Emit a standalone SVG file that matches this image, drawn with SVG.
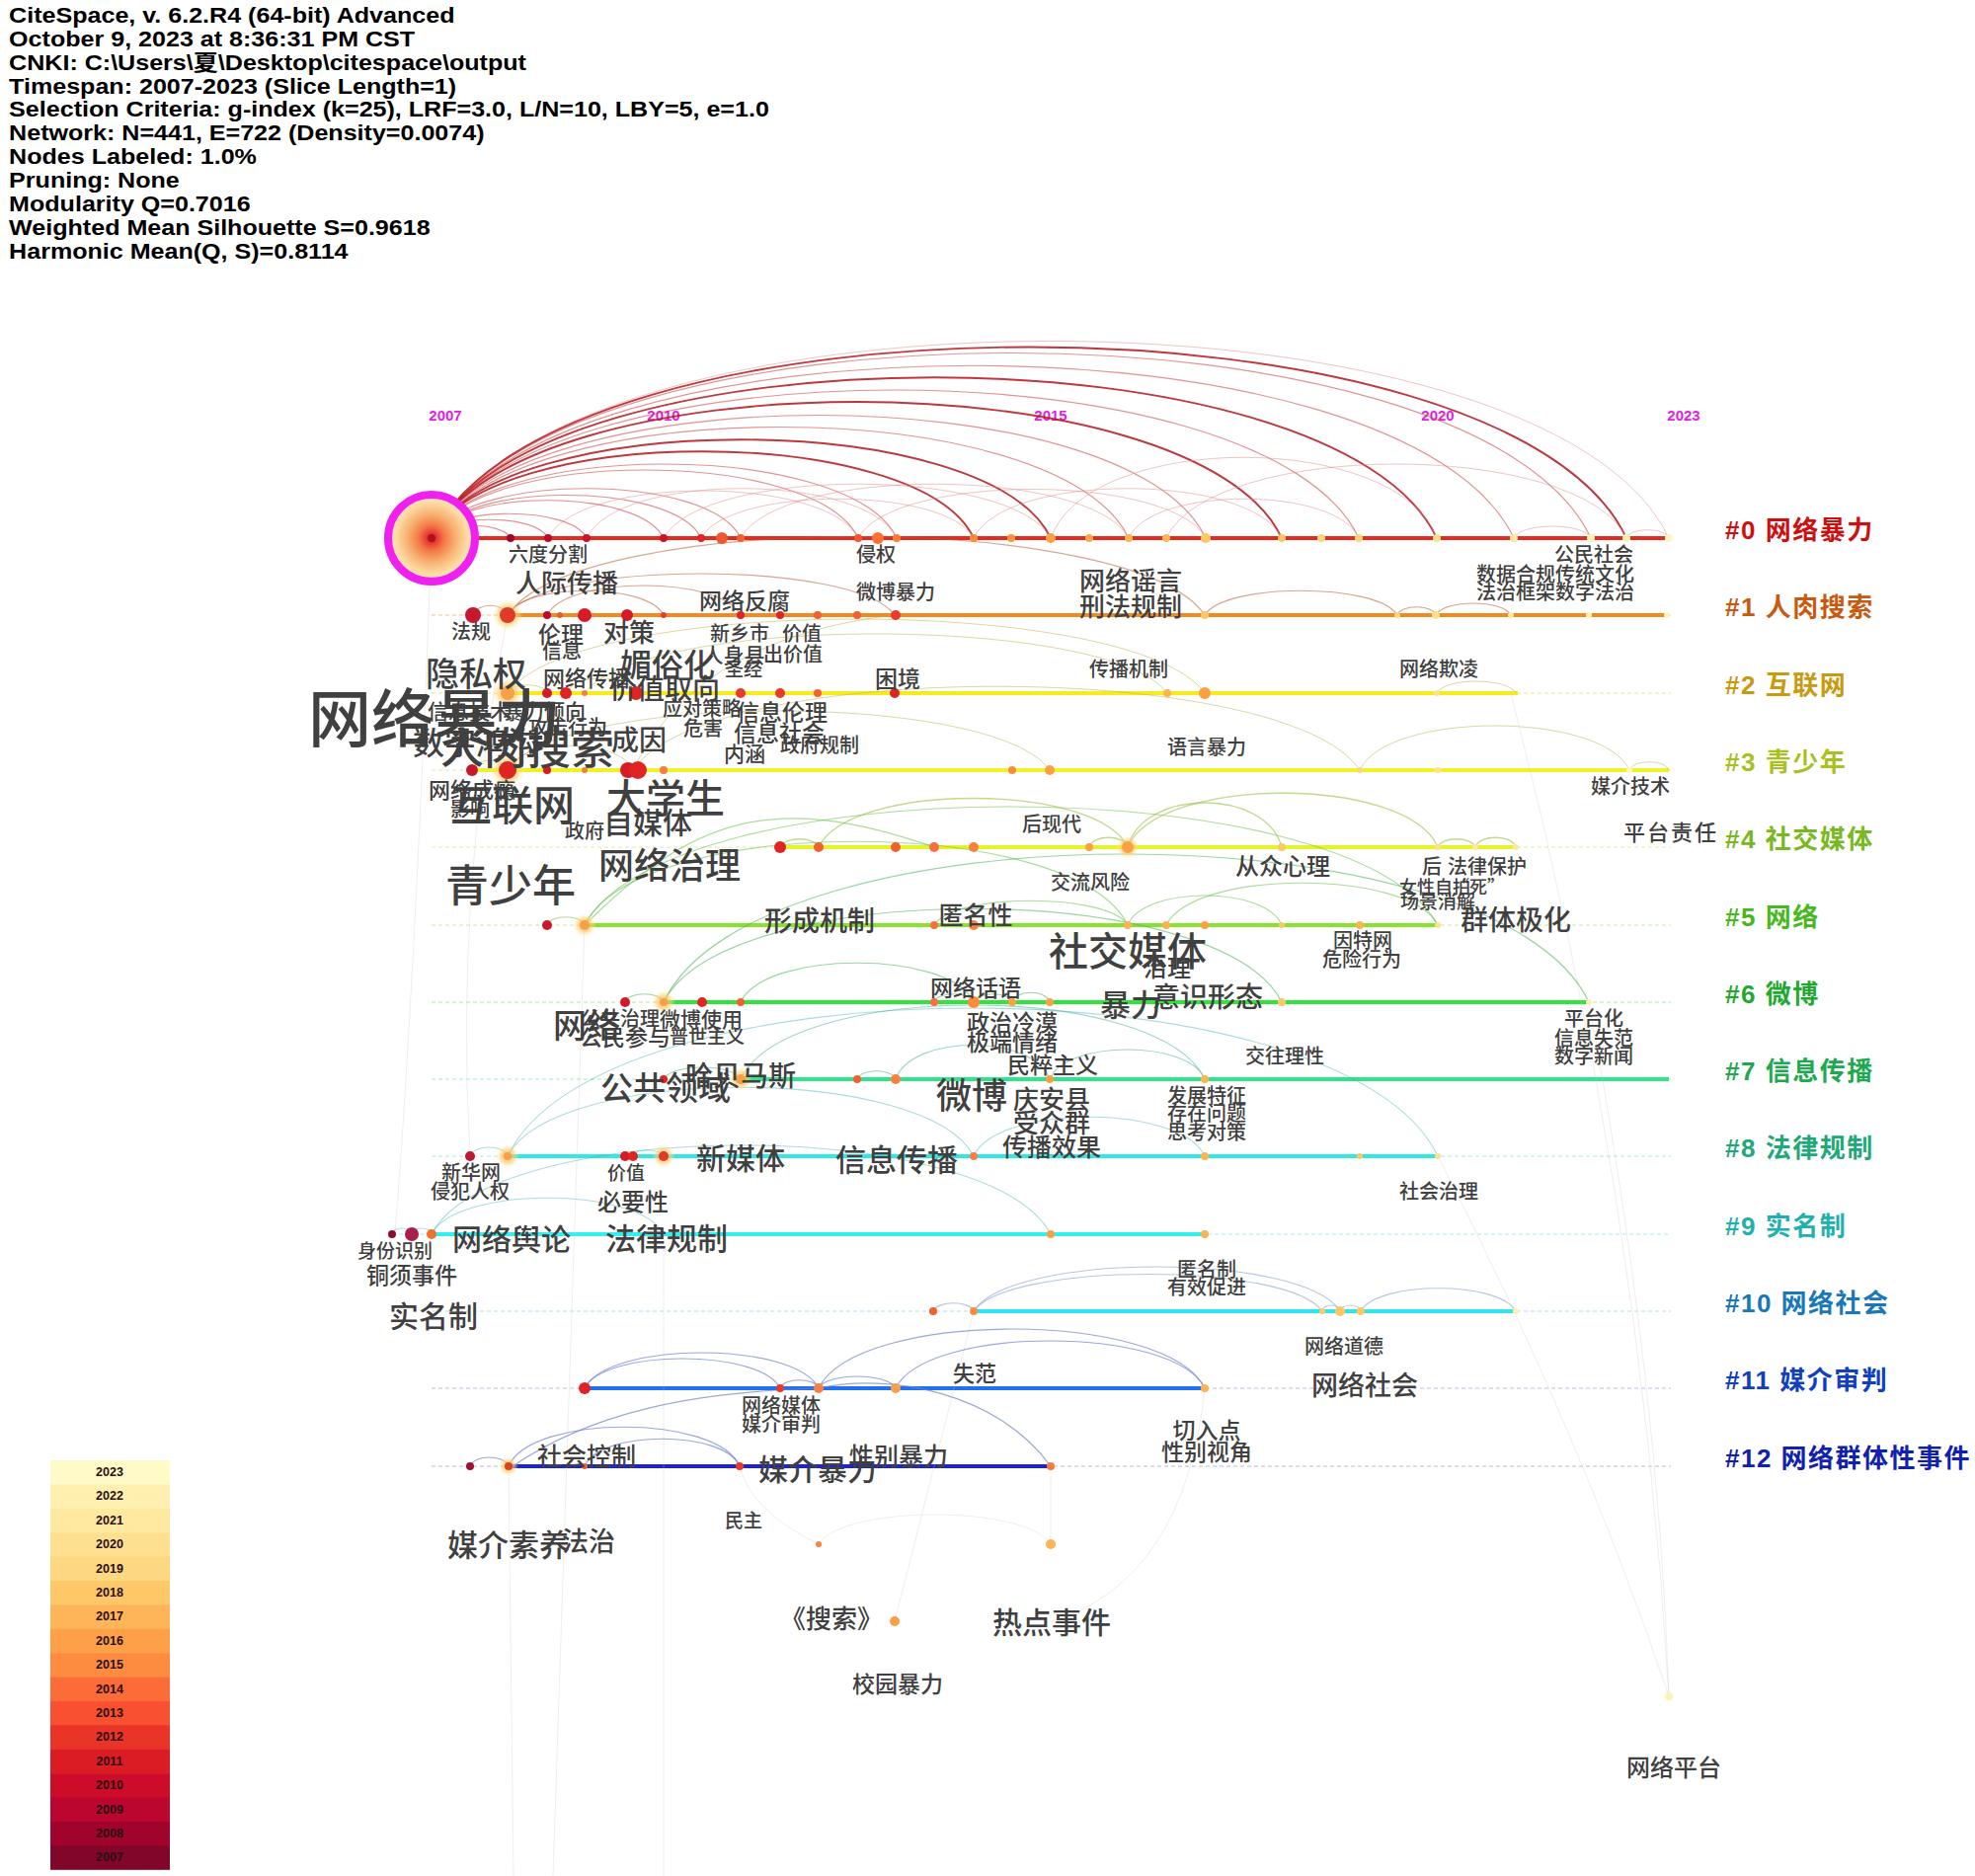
<svg xmlns="http://www.w3.org/2000/svg" width="2000" height="1900" viewBox="0 0 2000 1900">
<style>
.hdr{font-family:"Liberation Sans",Arial,sans-serif;font-weight:bold;font-size:22px;fill:#000}
.yr{font-family:"Liberation Sans Narrow","Liberation Sans",sans-serif;font-weight:bold;font-size:15px;fill:#e01ee0;text-anchor:middle}
.kw{font-family:"Noto Sans CJK SC",sans-serif;font-weight:500;fill:#404040;text-anchor:middle}
.kws{font-family:"Noto Sans CJK SC",sans-serif;font-weight:500;fill:#404040}
.cl{font-family:"Liberation Sans","Noto Sans CJK SC",sans-serif;font-weight:bold;font-size:26px;letter-spacing:1.5px}
.lg{font-family:"Liberation Sans",sans-serif;font-weight:bold;font-size:12.5px;fill:#2a1010;text-anchor:middle}
.dash{fill:none;stroke-width:1.3;stroke-dasharray:4 3;opacity:.55}
.tl{fill:none;stroke-width:4}
.a{fill:none}
.r0{stroke:#b3141a;stroke-width:1.9;opacity:.85}
.r0b{stroke:#c83a3a;stroke-width:1.2;opacity:.55}
.r0f{stroke:#e08a8a;stroke-width:1;opacity:.5}
.r1{stroke:#b85a30;stroke-width:1.2;opacity:.55}
.r2{stroke:#b8b048;stroke-width:1;opacity:.5}
.r4{stroke:#98c040;stroke-width:1.3;opacity:.6}
.r5{stroke:#68c048;stroke-width:1.2;opacity:.55}
.r6{stroke:#48b058;stroke-width:1.2;opacity:.55}
.r7{stroke:#40b088;stroke-width:1.1;opacity:.5}
.r8{stroke:#48b0b8;stroke-width:1.1;opacity:.45}
.r10{stroke:#98acd8;stroke-width:1.2;opacity:.7}
.r11{stroke:#7080d0;stroke-width:1.2;opacity:.7}
.gr{stroke:#c8c8c8;stroke-width:.9;opacity:.35;fill:none}
</style>
<defs>
<radialGradient id="bigg" cx="0.5" cy="0.5" r="0.5">
<stop offset="0" stop-color="#d01020"/>
<stop offset="0.12" stop-color="#e83a30"/>
<stop offset="0.3" stop-color="#f47a48"/>
<stop offset="0.55" stop-color="#f8b070"/>
<stop offset="0.8" stop-color="#fcd8a0"/>
<stop offset="1" stop-color="#fde8c0"/>
</radialGradient>
<radialGradient id="glow" cx="0.5" cy="0.5" r="0.5">
<stop offset="0" stop-color="#f8a040" stop-opacity="0.9"/>
<stop offset="0.6" stop-color="#fcd070" stop-opacity="0.6"/>
<stop offset="1" stop-color="#fff0b0" stop-opacity="0"/>
</radialGradient>
</defs>
<rect width="2000" height="1900" fill="#fff"/>

<g id="header" transform="scale(1.14,1)">
<text class="hdr" x="8" y="23">CiteSpace, v. 6.2.R4 (64-bit) Advanced</text>
<text class="hdr" x="8" y="47">October 9, 2023 at 8:36:31 PM CST</text>
<text class="hdr" x="8" y="71">CNKI: C:\Users\<tspan font-family="Noto Sans CJK SC">夏</tspan>\Desktop\citespace\output</text>
<text class="hdr" x="8" y="95">Timespan: 2007-2023 (Slice Length=1)</text>
<text class="hdr" x="8" y="118">Selection Criteria: g-index (k=25), LRF=3.0, L/N=10, LBY=5, e=1.0</text>
<text class="hdr" x="8" y="142">Network: N=441, E=722 (Density=0.0074)</text>
<text class="hdr" x="8" y="166">Nodes Labeled: 1.0%</text>
<text class="hdr" x="8" y="190">Pruning: None</text>
<text class="hdr" x="8" y="214">Modularity Q=0.7016</text>
<text class="hdr" x="8" y="238">Weighted Mean Silhouette S=0.9618</text>
<text class="hdr" x="8" y="262">Harmonic Mean(Q, S)=0.8114</text>
</g>

<g id="years">
<text class="yr" x="451" y="426">2007</text>
<text class="yr" x="672" y="426">2010</text>
<text class="yr" x="1064" y="426">2015</text>
<text class="yr" x="1456" y="426">2020</text>
<text class="yr" x="1705" y="426">2023</text>
</g>

<g id="legend">
<rect x="51" y="1479" width="121" height="25" fill="#fffbc8"/>
<rect x="51" y="1503.4" width="121" height="25" fill="#fff0b0"/>
<rect x="51" y="1527.8" width="121" height="25" fill="#ffe8a0"/>
<rect x="51" y="1552.2" width="121" height="25" fill="#ffe090"/>
<rect x="51" y="1576.6" width="121" height="25" fill="#fed880"/>
<rect x="51" y="1601" width="121" height="25" fill="#fec868"/>
<rect x="51" y="1625.4" width="121" height="25" fill="#feb458"/>
<rect x="51" y="1649.8" width="121" height="25" fill="#fea048"/>
<rect x="51" y="1674.2" width="121" height="25" fill="#fd8c40"/>
<rect x="51" y="1698.6" width="121" height="25" fill="#fc6c38"/>
<rect x="51" y="1723" width="121" height="25" fill="#f85030"/>
<rect x="51" y="1747.4" width="121" height="25" fill="#ea3428"/>
<rect x="51" y="1771.8" width="121" height="25" fill="#dc1c24"/>
<rect x="51" y="1796.2" width="121" height="25" fill="#cc0c28"/>
<rect x="51" y="1820.6" width="121" height="25" fill="#bb0630"/>
<rect x="51" y="1845" width="121" height="25" fill="#a0042c"/>
<rect x="51" y="1869.4" width="121" height="24.4" fill="#80062a"/>
<text class="lg" x="111" y="1495">2023</text>
<text class="lg" x="111" y="1519">2022</text>
<text class="lg" x="111" y="1544">2021</text>
<text class="lg" x="111" y="1568">2020</text>
<text class="lg" x="111" y="1593">2019</text>
<text class="lg" x="111" y="1617">2018</text>
<text class="lg" x="111" y="1641">2017</text>
<text class="lg" x="111" y="1666">2016</text>
<text class="lg" x="111" y="1690">2015</text>
<text class="lg" x="111" y="1715">2014</text>
<text class="lg" x="111" y="1739">2013</text>
<text class="lg" x="111" y="1763">2012</text>
<text class="lg" x="111" y="1788">2011</text>
<text class="lg" x="111" y="1812">2010</text>
<text class="lg" x="111" y="1837">2009</text>
<text class="lg" x="111" y="1861">2008</text>
<text class="lg" x="111" y="1885">2007</text>
</g>

<g id="timelines">
<line class="dash" x1="437" y1="545" x2="1692" y2="545" stroke="#f08080"/>
<line class="dash" x1="437" y1="623" x2="1692" y2="623" stroke="#f0b070"/>
<line class="dash" x1="437" y1="702" x2="1692" y2="702" stroke="#e8e070"/>
<line class="dash" x1="437" y1="780" x2="1692" y2="780" stroke="#e0e880"/>
<line class="dash" x1="437" y1="858" x2="1692" y2="858" stroke="#d8e890"/>
<line class="dash" x1="437" y1="937" x2="1692" y2="937" stroke="#b8e890"/>
<line class="dash" x1="437" y1="1015" x2="1692" y2="1015" stroke="#98e898"/>
<line class="dash" x1="437" y1="1093" x2="1692" y2="1093" stroke="#90e8b8"/>
<line class="dash" x1="437" y1="1171" x2="1692" y2="1171" stroke="#90e8e0"/>
<line class="dash" x1="397" y1="1250" x2="1692" y2="1250" stroke="#90e8e8"/>
<line class="dash" x1="437" y1="1328" x2="1692" y2="1328" stroke="#98d8f0"/>
<line class="dash" x1="437" y1="1406" x2="1692" y2="1406" stroke="#a8b0e8"/>
<line class="dash" x1="437" y1="1485" x2="1692" y2="1485" stroke="#a8a8e8"/>
<line class="tl" x1="437" y1="545" x2="1690" y2="545" stroke="#e62a1e"/>
<line class="tl" x1="514" y1="623" x2="1690" y2="623" stroke="#f28a22"/>
<line class="tl" x1="514" y1="702" x2="1537" y2="702" stroke="#f6ec1c"/>
<line class="tl" x1="478" y1="780" x2="1690" y2="780" stroke="#eef424"/>
<line class="tl" x1="790" y1="858" x2="1535" y2="858" stroke="#e4f428"/>
<line class="tl" x1="592" y1="937" x2="1456" y2="937" stroke="#88e42a"/>
<line class="tl" x1="672" y1="1015" x2="1609" y2="1015" stroke="#2ee63a"/>
<line class="tl" x1="750" y1="1093" x2="1690" y2="1093" stroke="#30e48a"/>
<line class="tl" x1="514" y1="1171" x2="1456" y2="1171" stroke="#30e8e8"/>
<line class="tl" x1="437" y1="1250" x2="1220" y2="1250" stroke="#30f0f0"/>
<line class="tl" x1="986" y1="1328" x2="1535" y2="1328" stroke="#30e4f4"/>
<line class="tl" x1="592" y1="1406" x2="1220" y2="1406" stroke="#2070f0"/>
<line class="tl" x1="515" y1="1485" x2="1064" y2="1485" stroke="#1a22e0"/>
</g>

<g id="connectors">
<path class="gr" d="M1530 702 Q1660 1200 1690 1718"/>
<path class="gr" d="M1609 1015 Q1680 1400 1690 1718"/>
<path class="gr" d="M1456 1171 Q1600 1450 1690 1718"/>
<path class="gr" d="M986 1328 L906 1642"/>
<path class="gr" d="M1064 1485 L1064 1564"/>
<path class="gr" d="M749 1485 Q760 1530 829 1564"/>
<path class="gr" d="M437 545 Q420 1000 400 1250"/>
<path class="gr" d="M672 1250 L672 1900"/>
<path class="gr" d="M514 623 Q460 900 476 1171"/>
<path class="gr" d="M592 937 L560 1900"/>
<path class="gr" d="M515 1485 L520 1900"/>
<path class="gr" d="M1220 1406 Q1200 1600 1064 1643"/>

<path class="a r0f" d="M437 545 C562 279 1565 279 1690 545"/>
<path class="a r0" d="M437 545 C558 287 1526 287 1647 545"/>
<path class="a r0b" d="M437 545 C554 295 1494 295 1611 545"/>
<path class="a r0b" d="M437 545 C547 312 1423 312 1533 545"/>
<path class="a r0" d="M437 545 C539 328 1353 328 1455 545"/>
<path class="a r0b" d="M437 545 C531 345 1282 345 1376 545"/>
<path class="a r0" d="M437 545 C523 361 1212 361 1298 545"/>
<path class="a r0b" d="M437 545 C515 379 1143 379 1221 545"/>
<path class="a r0b" d="M437 545 C508 395 1072 395 1143 545"/>
<path class="a r0" d="M437 545 C500 412 1001 412 1064 545"/>
<path class="a r0" d="M437 545 C492 428 931 428 986 545"/>
<path class="a r0b" d="M437 545 C484 445 861 445 908 545"/>
<path class="a r0b" d="M437 545 C480 453 826 453 869 545"/>
<path class="a r0b" d="M437 545 C468 478 719 478 750 545"/>
<path class="a r0b" d="M437 545 C464 487 683 487 710 545"/>
<path class="a r0b" d="M437 545 C460 494 648 494 672 545"/>
<path class="a r0b" d="M437 545 C453 512 578 512 594 545"/>
<path class="a r0b" d="M437 545 C449 520 543 520 555 545"/>
<path class="a r0b" d="M437 545 C445 528 509 528 517 545"/>
<path class="a r0f" d="M672 545 C711 472 1025 472 1064 545"/>
<path class="a r0f" d="M750 545 C789 472 1104 472 1143 545"/>
<path class="a r0f" d="M869 545 C904 479 1186 479 1221 545"/>
<path class="a r0f" d="M1064 545 C1103 436 1416 436 1455 545"/>
<path class="a r0f" d="M1143 545 C1166 492 1353 492 1376 545"/>
<path class="a r0f" d="M986 545 C1017 478 1267 478 1298 545"/>
<path class="a r0f" d="M594 545 C625 478 877 478 908 545"/>
<path class="a r0f" d="M555 545 C586 481 838 481 869 545"/>
<path class="a r0f" d="M1181 545 C1228 445 1600 445 1647 545"/>
<path class="a r0f" d="M710 545 C738 492 958 492 986 545"/>
<path class="a r0f" d="M1647 545 C1651 534 1686 534 1690 545"/>
<path class="a r0f" d="M1533 545 C1541 529 1603 529 1611 545"/>

<path class="a r1" d="M514 623 C553 567 867 567 906 623"/>
<path class="a r1" d="M514 623 C585 517 1149 517 1220 623" opacity=".35"/>
<path class="a r1" d="M479 623 C483 610 510 610 514 623"/>
<path class="a r1" d="M514 623 C530 590 656 590 672 623"/>
<path class="a r1" d="M554 623 C574 583 730 583 750 623"/>
<path class="a r1" d="M1415 623 C1419 612 1450 612 1454 623"/>
<path class="a r1" d="M1454 623 C1462 607 1522 607 1530 623"/>
<path class="a r1" d="M1220 623 C1240 590 1395 590 1415 623" opacity=".35"/>

<path class="a r2" d="M514 702 C585 602 1149 602 1220 702"/>
<path class="a r2" d="M592 702 C651 622 1123 622 1182 702"/>
<path class="a r2" d="M1455 702 C1463 686 1527 686 1535 702"/>
<path class="a r2" d="M514 702 C518 691 550 691 554 702"/>
<path class="a r2" d="M573 702 C580 682 637 682 644 702"/>
<path class="a r2" d="M514 780 C569 700 1008 700 1063 780"/>
<path class="a r2" d="M641 780 C715 667 1303 667 1377 780"/>
<path class="a r2" d="M1377 780 C1404 720 1623 720 1650 780" opacity=".35"/>
<path class="a r2" d="M1650 780 C1654 769 1686 769 1690 780"/>
<path class="a r2" d="M478 780 C482 767 510 767 514 780"/>
<path class="a r2" d="M514 780 C527 747 628 747 641 780"/>
<path class="a r2" d="M641 780 C680 700 760 640 906 623" opacity=".3"/>

<path class="a r4" d="M1142 858 C1158 798 1282 798 1298 858"/>
<path class="a r4" d="M1142 858 C1173 785 1425 785 1456 858"/>
<path class="a r4" d="M1103 858 C1107 845 1138 845 1142 858"/>
<path class="a r4" d="M1456 858 C1460 847 1490 847 1494 858"/>
<path class="a r4" d="M1494 858 C1498 845 1531 845 1535 858"/>
<path class="a r4" d="M790 858 C794 847 825 847 829 858"/>
<path class="a r4" d="M829 858 C860 792 1111 792 1142 858" opacity=".35"/>

<path class="a r5" d="M592 937 C678 777 1370 777 1456 937"/>
<path class="a r5" d="M592 937 C647 824 1087 824 1142 937"/>
<path class="a r5" d="M1181 937 C1209 880 1428 880 1456 937"/>
<path class="a r5" d="M1142 937 C1158 897 1282 897 1298 937"/>
<path class="a r5" d="M554 937 C558 926 588 926 592 937"/>
<path class="a r5" d="M946 937 C966 904 1122 904 1142 937" opacity=".35"/>
<path class="a r5" d="M592 937 C700 830 780 800 946 858" opacity=".35"/>

<path class="a r6" d="M672 1015 C766 815 1515 815 1609 1015"/>
<path class="a r6" d="M672 1015 C735 889 1235 889 1298 1015"/>
<path class="a r6" d="M946 1015 C950 1004 982 1004 986 1015"/>
<path class="a r6" d="M986 1015 C990 1004 1021 1004 1025 1015"/>
<path class="a r6" d="M1025 1015 C1029 1002 1059 1002 1063 1015"/>
<path class="a r6" d="M633 1015 C637 1004 668 1004 672 1015"/>
<path class="a r6" d="M750 1015 C774 962 962 962 986 1015" opacity=".35"/>

<path class="a r7" d="M750 1093 C797 993 1173 993 1220 1093"/>
<path class="a r7" d="M907 1093 C923 1047 1047 1047 1063 1093"/>
<path class="a r7" d="M1063 1093 C1079 1053 1204 1053 1220 1093"/>
<path class="a r7" d="M672 1093 C680 1077 742 1077 750 1093"/>
<path class="a r7" d="M868 1093 C872 1082 903 1082 907 1093"/>

<path class="a r8" d="M514 1171 C608 971 1362 971 1456 1171"/>
<path class="a r8" d="M514 1171 C561 1078 939 1078 986 1171"/>
<path class="a r8" d="M476 1171 C480 1159 510 1159 514 1171"/>
<path class="a r8" d="M639 1171 C642 1163 669 1163 672 1171"/>
<path class="a r8" d="M986 1171 C1009 1118 1197 1118 1220 1171"/>

<path class="a r8" d="M437 1250 C461 1201 648 1201 672 1250"/>
<path class="a r8" d="M437 1250 C500 1130 1001 1130 1064 1250" opacity=".3"/>
<path class="a r8" d="M397 1250 C399 1242 415 1242 417 1250"/>
<path class="a r8" d="M417 1250 C419 1242 435 1242 437 1250"/>

<path class="a r10" d="M986 1328 C1023 1268 1320 1268 1357 1328"/>
<path class="a r10" d="M986 1328 C1021 1278 1304 1278 1339 1328"/>
<path class="a r10" d="M1378 1328 C1394 1297 1519 1297 1535 1328"/>
<path class="a r10" d="M945 1328 C949 1317 982 1317 986 1328"/>
<path class="a r10" d="M1339 1328 C1341 1320 1355 1320 1357 1328"/>
<path class="a r10" d="M1357 1328 C1359 1320 1376 1320 1378 1328"/>

<path class="a r11" d="M592 1406 C616 1358 805 1358 829 1406"/>
<path class="a r11" d="M592 1406 C612 1366 770 1366 790 1406"/>
<path class="a r11" d="M790 1406 C794 1395 825 1395 829 1406"/>
<path class="a r11" d="M829 1406 C837 1390 899 1390 907 1406"/>
<path class="a r11" d="M829 1406 C868 1326 1181 1326 1220 1406"/>
<path class="a r11" d="M907 1406 C938 1342 1189 1342 1220 1406"/>
<path class="a r11" d="M476 1485 C480 1473 511 1473 515 1485"/>
<path class="a r11" d="M515 1485 C538 1432 726 1432 749 1485"/>
<path class="a r11" d="M592 1485 C608 1448 733 1448 749 1485"/>
<path class="a r11" d="M829 1406 C900 1390 1010 1410 1064 1485"/>
<path class="a r11" d="M519 1485 C600 1430 700 1410 829 1406"/>
<path class="a gr" d="M829 1564 C853 1524 1040 1524 1064 1564"/>
</g>

<g id="nodes-0">
<circle id="n0-big" cx="437" cy="545" r="44" fill="url(#bigg)" stroke="#f020f0" stroke-width="8"/>
<circle cx="437" cy="545" r="4" fill="#b01020"/>
<circle cx="517" cy="545" r="4" fill="#a20628"/>
<circle cx="555" cy="545" r="4" fill="#bd0a2a"/>
<circle cx="594" cy="545" r="4" fill="#cc1428"/>
<circle cx="672" cy="545" r="4" fill="#cc1428"/>
<circle cx="710" cy="545" r="4" fill="#e02424"/>
<circle cx="731" cy="545" r="6" fill="#ec5a30"/>
<circle cx="750" cy="545" r="4" fill="#f06030"/>
<circle cx="869" cy="545" r="4" fill="#f85430"/>
<circle cx="889" cy="545" r="6" fill="#fc7034"/>
<circle cx="908" cy="545" r="4" fill="#fc7a34"/>
<circle cx="986" cy="545" r="4" fill="#fc8c3c"/>
<circle cx="1024" cy="545" r="4" fill="#fc943c"/>
<circle cx="1064" cy="545" r="5" fill="#fca044"/>
<circle cx="1103" cy="545" r="4" fill="#fca848"/>
<circle cx="1143" cy="545" r="4" fill="#fcb450"/>
<circle cx="1181" cy="545" r="4" fill="#fcb858"/>
<circle cx="1221" cy="545" r="5" fill="#fdc766"/>
<circle cx="1298" cy="545" r="4" fill="#fdc766"/>
<circle cx="1338" cy="545" r="4" fill="#fdd57a"/>
<circle cx="1376" cy="545" r="4" fill="#fdd57a"/>
<circle cx="1455" cy="545" r="4" fill="#fde090"/>
<circle cx="1533" cy="545" r="4" fill="#fde9a0"/>
<circle cx="1611" cy="545" r="4" fill="#fdf0b0"/>
<circle cx="1647" cy="545" r="4" fill="#fdf0b0"/>
<circle cx="1690" cy="545" r="4" fill="#fef6c0"/>
</g>
<g id="nodes-1">
<circle cx="479" cy="623" r="8" fill="#c81830"/>
<circle cx="514" cy="623" r="16" fill="url(#glow)"/>
<circle cx="514" cy="623" r="8" fill="#e03a2a"/>
<circle cx="554" cy="623" r="4" fill="#bd0a2a"/>
<circle cx="567" cy="623" r="3" fill="#e06030"/>
<circle cx="592" cy="623" r="7" fill="#d81a28"/>
<circle cx="635" cy="623" r="6" fill="#d81a28"/>
<circle cx="672" cy="623" r="3" fill="#e04030"/>
<circle cx="750" cy="623" r="4" fill="#e02424"/>
<circle cx="790" cy="623" r="4" fill="#e02424"/>
<circle cx="828" cy="623" r="4" fill="#f06030"/>
<circle cx="868" cy="623" r="4" fill="#f06030"/>
<circle cx="907" cy="623" r="5" fill="#ec3a2a"/>
<circle cx="1220" cy="623" r="4" fill="#fdc766"/>
<circle cx="1415" cy="623" r="3" fill="#fdd57a"/>
<circle cx="1454" cy="623" r="4" fill="#fde090"/>
<circle cx="1530" cy="623" r="3" fill="#fde9a0"/>
<circle cx="1609" cy="623" r="3" fill="#fdf0b0"/>
<circle cx="1688" cy="623" r="3" fill="#fef6c0"/>
</g>
<g id="nodes-2">
<circle cx="514" cy="702" r="16" fill="url(#glow)"/>
<circle cx="514" cy="702" r="7" fill="#f8a048"/>
<circle cx="554" cy="702" r="5" fill="#d81a28"/>
<circle cx="573" cy="702" r="6" fill="#e02424"/>
<circle cx="592" cy="702" r="3" fill="#f08040"/>
<circle cx="644" cy="702" r="7" fill="#e02424"/>
<circle cx="750" cy="702" r="5" fill="#ec3a2a"/>
<circle cx="790" cy="702" r="5" fill="#ec3a2a"/>
<circle cx="828" cy="702" r="4" fill="#f86030"/>
<circle cx="906" cy="702" r="5" fill="#e02424"/>
<circle cx="1182" cy="702" r="4" fill="#fcb450"/>
<circle cx="1220" cy="702" r="6" fill="#fca044"/>
<circle cx="1455" cy="702" r="3" fill="#fde090"/>
</g>
<g id="nodes-3">
<circle cx="478" cy="780" r="6" fill="#c81830"/>
<circle cx="514" cy="780" r="18" fill="url(#glow)"/>
<circle cx="514" cy="780" r="9" fill="#e02424"/>
<circle cx="554" cy="780" r="4" fill="#d81a28"/>
<circle cx="592" cy="780" r="3" fill="#f08040"/>
<circle cx="636" cy="780" r="8" fill="#d81a28"/>
<circle cx="646" cy="780" r="9" fill="#e02424"/>
<circle cx="672" cy="780" r="4" fill="#f08040"/>
<circle cx="1025" cy="780" r="4" fill="#fc8c3c"/>
<circle cx="1063" cy="780" r="5" fill="#fca044"/>
<circle cx="1377" cy="780" r="3" fill="#fdd57a"/>
<circle cx="1456" cy="780" r="3" fill="#fde090"/>
<circle cx="1650" cy="780" r="3" fill="#fef6c0"/>
</g>
<g id="nodes-4">
<circle cx="790" cy="858" r="6" fill="#e02424"/>
<circle cx="829" cy="858" r="5" fill="#f06030"/>
<circle cx="907" cy="858" r="5" fill="#f06030"/>
<circle cx="946" cy="858" r="5" fill="#f87040"/>
<circle cx="986" cy="858" r="5" fill="#fc8040"/>
<circle cx="1103" cy="858" r="4" fill="#fca044"/>
<circle cx="1142" cy="858" r="12" fill="url(#glow)"/>
<circle cx="1142" cy="858" r="6" fill="#fca044"/>
<circle cx="1298" cy="858" r="4" fill="#fdc766"/>
<circle cx="1456" cy="858" r="3" fill="#fde090"/>
<circle cx="1494" cy="858" r="3" fill="#fde9a0"/>
<circle cx="1535" cy="858" r="3" fill="#fde9a0"/>
</g>
<g id="nodes-5">
<circle cx="554" cy="937" r="5" fill="#c81830"/>
<circle cx="592" cy="937" r="12" fill="url(#glow)"/>
<circle cx="592" cy="937" r="5" fill="#f8a048"/>
<circle cx="946" cy="937" r="4" fill="#f87040"/>
<circle cx="986" cy="937" r="5" fill="#fc8040"/>
<circle cx="1142" cy="937" r="4" fill="#fcb450"/>
<circle cx="1181" cy="937" r="4" fill="#fcb450"/>
<circle cx="1220" cy="937" r="4" fill="#fca044"/>
<circle cx="1298" cy="937" r="3" fill="#fdc766"/>
<circle cx="1377" cy="937" r="4" fill="#fcb450"/>
<circle cx="1456" cy="937" r="3" fill="#fde090"/>
</g>
<g id="nodes-6">
<circle cx="633" cy="1015" r="5" fill="#d01a2a"/>
<circle cx="672" cy="1015" r="12" fill="url(#glow)"/>
<circle cx="672" cy="1015" r="4" fill="#f8a048"/>
<circle cx="711" cy="1015" r="5" fill="#e02424"/>
<circle cx="750" cy="1015" r="4" fill="#f06030"/>
<circle cx="946" cy="1015" r="4" fill="#f87040"/>
<circle cx="986" cy="1015" r="6" fill="#fc8c3c"/>
<circle cx="1025" cy="1015" r="4" fill="#fca044"/>
<circle cx="1063" cy="1015" r="4" fill="#fca044"/>
<circle cx="1298" cy="1015" r="4" fill="#fdc766"/>
<circle cx="1609" cy="1015" r="3" fill="#fef0b0"/>
</g>
<g id="nodes-7">
<circle cx="672" cy="1093" r="4" fill="#e02424"/>
<circle cx="750" cy="1093" r="12" fill="url(#glow)"/>
<circle cx="750" cy="1093" r="5" fill="#f8a048"/>
<circle cx="868" cy="1093" r="4" fill="#f06030"/>
<circle cx="907" cy="1093" r="5" fill="#f88040"/>
<circle cx="1063" cy="1093" r="4" fill="#fca044"/>
<circle cx="1220" cy="1093" r="4" fill="#fcb450"/>
</g>
<g id="nodes-8">
<circle cx="476" cy="1171" r="5" fill="#c01830"/>
<circle cx="514" cy="1171" r="12" fill="url(#glow)"/>
<circle cx="514" cy="1171" r="4" fill="#f8a048"/>
<circle cx="633" cy="1171" r="5" fill="#d81a28"/>
<circle cx="641" cy="1171" r="5" fill="#e02424"/>
<circle cx="672" cy="1171" r="12" fill="url(#glow)"/>
<circle cx="672" cy="1171" r="5" fill="#e03a2a"/>
<circle cx="986" cy="1171" r="4" fill="#fc8040"/>
<circle cx="1220" cy="1171" r="4" fill="#fcb450"/>
<circle cx="1377" cy="1171" r="3" fill="#fdc766"/>
<circle cx="1456" cy="1171" r="3" fill="#fde090"/>
</g>
<g id="nodes-9">
<circle cx="397" cy="1250" r="4" fill="#900a30"/>
<circle cx="417" cy="1250" r="7" fill="#a8204a"/>
<circle cx="437" cy="1250" r="5" fill="#f07030"/>
<circle cx="1064" cy="1250" r="4" fill="#f8a048"/>
<circle cx="1220" cy="1250" r="4" fill="#fcb450"/>
</g>
<g id="nodes-10">
<circle cx="945" cy="1328" r="4" fill="#f06030"/>
<circle cx="986" cy="1328" r="4" fill="#fc9040"/>
<circle cx="1339" cy="1328" r="3" fill="#fdc766"/>
<circle cx="1357" cy="1328" r="5" fill="#fdc766"/>
<circle cx="1378" cy="1328" r="4" fill="#fdc766"/>
<circle cx="1535" cy="1328" r="3" fill="#fef0b0"/>
</g>
<g id="nodes-11">
<circle cx="592" cy="1406" r="6" fill="#e02424"/>
<circle cx="790" cy="1406" r="4" fill="#e83a2a"/>
<circle cx="829" cy="1406" r="5" fill="#f88040"/>
<circle cx="907" cy="1406" r="5" fill="#f8a048"/>
<circle cx="1220" cy="1406" r="4" fill="#fcb450"/>
</g>
<g id="nodes-12">
<circle cx="476" cy="1485" r="4" fill="#a01030"/>
<circle cx="515" cy="1485" r="10" fill="url(#glow)"/>
<circle cx="515" cy="1485" r="4" fill="#e04020"/>
<circle cx="592" cy="1485" r="3" fill="#f06030"/>
<circle cx="749" cy="1485" r="4" fill="#e83a2a"/>
<circle cx="1064" cy="1485" r="4" fill="#f87a40"/>
</g>
<g id="nodes-other">
<circle cx="829" cy="1564" r="3" fill="#f88040"/>
<circle cx="1064" cy="1564" r="5" fill="#fcb458"/>
<circle cx="906" cy="1642" r="5" fill="#f8a048"/>
<circle cx="1690" cy="1718" r="4" fill="#fdf4b0"/>
</g>

<g id="keywords">
<text class="kw" font-size="20" x="555" y="569">六度分割</text>
<text class="kw" font-size="20" x="887" y="569">侵权</text>
<text class="kw" font-size="26" x="574" y="600">人际传播</text>
<text class="kw" font-size="23" x="754" y="617">网络反腐</text>
<text class="kw" font-size="20" x="907" y="607">微博暴力</text>
<text class="kw" font-size="26" x="1145" y="598">网络谣言</text>
<text class="kw" font-size="26" x="1145" y="624">刑法规制</text>
<text class="kw" font-size="20" x="1614" y="569">公民社会</text>
<text class="kw" font-size="20" x="1575" y="589">数据合规传统文化</text>
<text class="kw" font-size="20" x="1575" y="607">法治框架数字法治</text>

<text class="kw" font-size="20" x="477" y="647">法规</text>
<text class="kw" font-size="23" x="568" y="651">伦理</text>
<text class="kw" font-size="20" x="569" y="667">信息</text>
<text class="kw" font-size="26" x="637" y="650">对策</text>
<text class="kw" font-size="20" x="749" y="649">新乡市</text>
<text class="kw" font-size="20" x="812" y="649">价值</text>
<text class="kw" font-size="21" x="743" y="671">人身县</text>
<text class="kw" font-size="20" x="803" y="670">出价值</text>
<text class="kw" font-size="19" x="753" y="685">圣经</text>
<text class="kw" font-size="34" x="482" y="695">隐私权</text>
<text class="kw" font-size="32" x="676" y="685">媚俗化</text>
<text class="kw" font-size="22" x="594" y="695">网络传播</text>
<text class="kw" font-size="28" x="673" y="708">价值取向</text>
<text class="kw" font-size="23" x="909" y="696">困境</text>
<text class="kw" font-size="20" x="1143" y="685">传播机制</text>
<text class="kw" font-size="20" x="1457" y="685">网络欺凌</text>

<text class="kw" font-size="64" x="440" y="751">网络暴力</text>
<text class="kw" font-size="21" x="475" y="728">信息技术</text>
<text class="kw" font-size="21" x="551" y="728">暴力倾向</text>
<text class="kw" font-size="20" x="575" y="744">攻击行为</text>
<text class="kw" font-size="20" x="711" y="725">应对策略</text>
<text class="kw" font-size="23" x="792" y="730">信息伦理</text>
<text class="kw" font-size="20" x="712" y="745">危害</text>
<text class="kw" font-size="23" x="789" y="751">信息社会</text>
<text class="kw" font-size="21" x="754" y="771">内涵</text>
<text class="kw" font-size="20" x="830" y="762">政府规制</text>
<text class="kw" font-size="32" x="482" y="764">数字鸿沟</text>
<text class="kw" font-size="44" x="534" y="774">人肉搜索</text>
<text class="kw" font-size="28" x="647" y="760">成因</text>

<text class="kw" font-size="22" x="478" y="808">网络成瘾</text>
<text class="kw" font-size="20" x="476" y="827">影响</text>
<text class="kw" font-size="42" x="519" y="831">互联网</text>
<text class="kw" font-size="40" x="674" y="823">大学生</text>
<text class="kw" font-size="20" x="592" y="849">政府</text>
<text class="kw" font-size="30" x="656" y="844">自媒体</text>
<text class="kw" font-size="20" x="1222" y="764">语言暴力</text>
<text class="kw" font-size="20" x="1651" y="804">媒介技术</text>
<text class="kw" font-size="22" x="1692" y="851" letter-spacing="2">平台责任</text>

<text class="kw" font-size="20" x="1065" y="842">后现代</text>
<text class="kw" font-size="44" x="517" y="913">青少年</text>
<text class="kw" font-size="36" x="678" y="890">网络治理</text>
<text class="kw" font-size="24" x="1299" y="886">从众心理</text>
<text class="kw" font-size="20" x="1104" y="901">交流风险</text>
<text class="kw" font-size="20" x="1450" y="885">后</text>
<text class="kw" font-size="20" x="1506" y="885">法律保护</text>
<text class="kw" font-size="18" x="1453" y="905">女性自拍</text>
<text class="kws" font-size="18" x="1470" y="905">“死”</text>
<text class="kw" font-size="19" x="1456" y="920">场景消解</text>
<text class="kw" font-size="28" x="1535" y="942">群体极化</text>

<text class="kw" font-size="28" x="830" y="943">形成机制</text>
<text class="kw" font-size="25" x="988" y="936">匿名性</text>
<text class="kw" font-size="40" x="1142" y="978">社交媒体</text>
<text class="kw" font-size="24" x="1182" y="989">治理</text>
<text class="kw" font-size="20" x="1380" y="960">因特网</text>
<text class="kw" font-size="20" x="1379" y="979">危险行为</text>

<text class="kw" font-size="23" x="988" y="1009">网络话语</text>
<text class="kw" font-size="34" x="594" y="1051">网络</text>
<text class="kw" font-size="20" x="628" y="1039">公共治理</text>
<text class="kw" font-size="21" x="710" y="1040">微博使用</text>
<text class="kw" font-size="23" x="633" y="1059">公民参与</text>
<text class="kw" font-size="19" x="716" y="1057">普世主义</text>
<text class="kw" font-size="23" x="1025" y="1044">政治冷漠</text>
<text class="kw" font-size="23" x="1025" y="1064">极端情绪</text>
<text class="kw" font-size="31" x="1145" y="1029">暴力</text>
<text class="kw" font-size="28" x="1223" y="1020">意识形态</text>
<text class="kw" font-size="20" x="1614" y="1039">平台化</text>
<text class="kw" font-size="20" x="1614" y="1059">信息失范</text>
<text class="kw" font-size="20" x="1614" y="1077">数字新闻</text>
<text class="kw" font-size="20" x="1301" y="1077">交往理性</text>
<text class="kw" font-size="23" x="1066" y="1087">民粹主义</text>

<text class="kw" font-size="33" x="674" y="1114">公共领域</text>
<text class="kw" font-size="28" x="750" y="1100">哈贝马斯</text>
<text class="kw" font-size="36" x="984" y="1123">微博</text>
<text class="kw" font-size="26" x="1065" y="1123">庆安县</text>
<text class="kw" font-size="26" x="1065" y="1147">受众群</text>
<text class="kw" font-size="25" x="1065" y="1171">传播效果</text>
<text class="kw" font-size="20" x="1222" y="1117">发展特征</text>
<text class="kw" font-size="20" x="1222" y="1135">存在问题</text>
<text class="kw" font-size="20" x="1222" y="1154">思考对策</text>

<text class="kw" font-size="20" x="477" y="1195">新华网</text>
<text class="kw" font-size="20" x="476" y="1214">侵犯人权</text>
<text class="kw" font-size="19" x="634" y="1195">价值</text>
<text class="kw" font-size="30" x="750" y="1184">新媒体</text>
<text class="kw" font-size="31" x="908" y="1186">信息传播</text>
<text class="kw" font-size="24" x="641" y="1226">必要性</text>
<text class="kw" font-size="20" x="1457" y="1214">社会治理</text>

<text class="kw" font-size="30" x="518" y="1266">网络舆论</text>
<text class="kw" font-size="31" x="675" y="1266">法律规制</text>
<text class="kw" font-size="19" x="400" y="1274">身份识别</text>
<text class="kw" font-size="23" x="417" y="1300">铜须事件</text>
<text class="kw" font-size="30" x="439" y="1344">实名制</text>

<text class="kw" font-size="20" x="1222" y="1293">匿名制</text>
<text class="kw" font-size="20" x="1222" y="1311">有效促进</text>
<text class="kw" font-size="20" x="1361" y="1371">网络道德</text>

<text class="kw" font-size="22" x="987" y="1399">失范</text>
<text class="kw" font-size="27" x="1382" y="1413">网络社会</text>
<text class="kw" font-size="20" x="791" y="1431">网络媒体</text>
<text class="kw" font-size="20" x="791" y="1450">媒介审判</text>

<text class="kw" font-size="25" x="594" y="1484">社会控制</text>
<text class="kw" font-size="30" x="828" y="1499">媒介暴力</text>
<text class="kw" font-size="25" x="910" y="1484">性别暴力</text>
<text class="kw" font-size="23" x="1222" y="1457">切入点</text>
<text class="kw" font-size="23" x="1222" y="1479">性别视角</text>

<text class="kw" font-size="19" x="753" y="1547">民主</text>
<text class="kw" font-size="31" x="515" y="1576">媒介素养</text>
<text class="kw" font-size="27" x="596" y="1571">法治</text>
<text class="kw" font-size="26" x="842" y="1649">《搜索》</text>
<text class="kw" font-size="30" x="1065" y="1654">热点事件</text>
<text class="kw" font-size="23" x="909" y="1714">校园暴力</text>
<text class="kw" font-size="24" x="1695" y="1799">网络平台</text>
</g>

<g id="clusters">
<text class="cl" x="1747" y="546" fill="#cc1010">#0 网络暴力</text>
<text class="cl" x="1747" y="624" fill="#c85a10">#1 人肉搜索</text>
<text class="cl" x="1747" y="703" fill="#c89a10">#2 互联网</text>
<text class="cl" x="1747" y="781" fill="#a8c020">#3 青少年</text>
<text class="cl" x="1747" y="859" fill="#78b820">#4 社交媒体</text>
<text class="cl" x="1747" y="938" fill="#48b820">#5 网络</text>
<text class="cl" x="1747" y="1016" fill="#20a830">#6 微博</text>
<text class="cl" x="1747" y="1094" fill="#20a850">#7 信息传播</text>
<text class="cl" x="1747" y="1172" fill="#20a878">#8 法律规制</text>
<text class="cl" x="1747" y="1251" fill="#20b0b0">#9 实名制</text>
<text class="cl" x="1747" y="1329" fill="#1878b8">#10 网络社会</text>
<text class="cl" x="1747" y="1407" fill="#1040c0">#11 媒介审判</text>
<text class="cl" x="1747" y="1486" fill="#1020b0">#12 网络群体性事件</text>
</g>
</svg>
